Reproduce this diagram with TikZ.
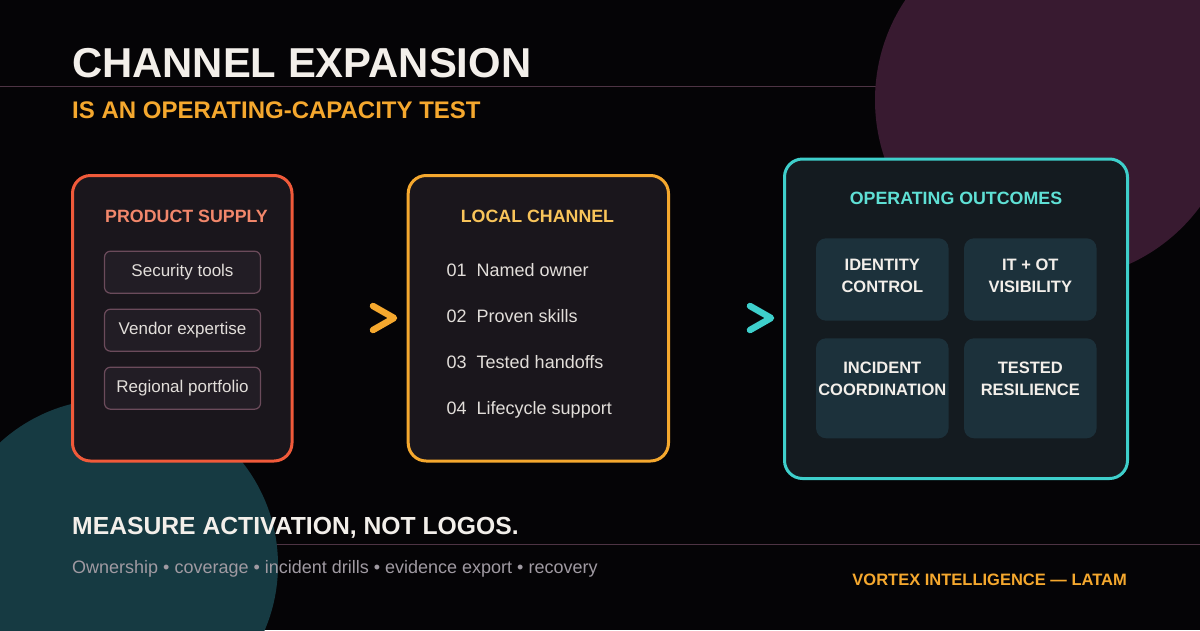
\documentclass[tikz,border=0pt]{standalone}
\usepackage{fontspec}
\setmainfont{Liberation Sans}
\usepackage{xcolor}
\usetikzlibrary{positioning}
\definecolor{bgdark}{HTML}{050406}
\definecolor{plum}{HTML}{381A30}
\definecolor{deepteal}{HTML}{163A42}
\definecolor{rulecol}{HTML}{4E3444}
\definecolor{ink}{HTML}{F3EFEA}
\definecolor{amber}{HTML}{F5A82E}
\definecolor{amberlt}{HTML}{F8C45A}
\definecolor{redline}{HTML}{F05A3A}
\definecolor{salmon}{HTML}{F2876B}
\definecolor{cyanline}{HTML}{3ECFCB}
\definecolor{cyantxt}{HTML}{5FE0D5}
\definecolor{panelfill}{HTML}{1A161C}
\definecolor{outfill}{HTML}{141B20}
\definecolor{itemfill}{HTML}{221D25}
\definecolor{itemline}{HTML}{6B4B5B}
\definecolor{tilefill}{HTML}{1C313B}
\definecolor{greytxt}{HTML}{A09AA2}
\definecolor{listtxt}{HTML}{E2DEDA}

\begin{document}
\begin{tikzpicture}[x=1pt, y=1pt, node distance=16pt, panel/.style={draw=#1, line width=3pt, rounded corners=18pt, inner sep=0pt}, ptitle/.style={anchor=base, inner sep=0pt, font=\fontsize{17.8}{20}\selectfont\bfseries}, item/.style={draw=itemline, fill=itemfill, line width=1.2pt, rounded corners=6pt, minimum width=156pt, minimum height=42pt, inner sep=0pt, outer sep=0pt, text=listtxt, font=\fontsize{17}{20}\selectfont}, entry/.style={anchor=base west, inner sep=0pt, text=listtxt, font=\fontsize{18}{20}\selectfont}, tile/.style={fill=tilefill, rounded corners=10pt, minimum width=132.5pt, inner sep=0pt}, tiletxt/.style={anchor=base, align=center, inner sep=0pt, text=ink, font=\fontsize{16.5}{22.7}\selectfont\bfseries}, chev/.style={draw=#1, line width=6.5pt, line cap=round, line join=round}, rule/.style={draw=rulecol, line width=1pt}]
% backdrop
\fill[bgdark] (0,0) rectangle (1200,-630);
\useasboundingbox (0,0) rectangle (1200,-630);
\draw[rule] (0,-86) -- (1200,-86);
\draw[rule] (0,-544) -- (1200,-544);
\fill[plum] (1055,-100) circle (180);
\fill[deepteal] (112,-565) circle (166);
% headings
\node[anchor=base west, inner sep=0pt, text=ink, font=\fontsize{41.8}{48}\selectfont\bfseries] (title) at (72,-77) {CHANNEL EXPANSION};
\node[anchor=base west, inner sep=0pt, text=amber, font=\fontsize{24}{28}\selectfont\bfseries] (subtitle) at (72,-118.3) {IS AN OPERATING-CAPACITY TEST};
% panels
\node[panel=redline, fill=panelfill, minimum width=219.5pt, minimum height=285.5pt] (supply) at (182.25,-318.25) {};
\node[panel=amber, fill=panelfill, minimum width=260.3pt, minimum height=285.5pt] (channel) at (538.35,-318.25) {};
\node[panel=cyanline, fill=outfill, minimum width=343pt, minimum height=319.5pt] (outcomes) at (956,-318.75) {};
\node[ptitle, text=salmon] (supplyhd) at (186.5,-222.3) {PRODUCT SUPPLY};
\node[ptitle, text=amberlt] (channelhd) at (537.5,-222.3) {LOCAL CHANNEL};
\node[ptitle, text=cyantxt] (outcomeshd) at (956,-204.3) {OPERATING OUTCOMES};
% product supply
\node[item] (tools) at (182.5,-272.2) {Security tools};
\node[item, below=of tools] (vendor) {Vendor expertise};
\node[item, below=of vendor] (portfolio) {Regional portfolio};
% local channel
\foreach \n/\t [count=\i] in {01/Named owner, 02/Proven skills, 03/Tested handoffs, 04/Lifecycle support}
  \node[entry] (entry\i) at (446.5,{-276.7-46*(\i-1)}) {\n\hspace{10pt}\t};
% outcomes
\node[tile, minimum height=82.4pt] (identity) at (882.3,-279.5) {};
\node[tile, minimum height=82.4pt] (visibility) at (1030.3,-279.5) {};
\node[tile, minimum height=100pt] (incident) at (882.3,-388.3) {};
\node[tile, minimum height=100pt] (resilience) at (1030.3,-388.3) {};
\node[tiletxt] at (882.3,-292.7) {IDENTITY\\CONTROL};
\node[tiletxt] at (1030.3,-292.7) {IT + OT\\VISIBILITY};
\node[tiletxt] at (882.3,-395.7) {INCIDENT\\COORDINATION};
\node[tiletxt] at (1030.3,-395.7) {TESTED\\RESILIENCE};
% chevrons
\draw[chev=amber] (373,-306) -- (394,-318) -- (373,-330);
\draw[chev=cyanline] (750,-306) -- (771,-318) -- (750,-330);
% footer
\node[anchor=base west, inner sep=0pt, text=ink, font=\fontsize{24.7}{28}\selectfont\bfseries] (motto) at (72,-534.3) {MEASURE ACTIVATION, NOT LOGOS.};
\node[anchor=base west, inner sep=0pt, text=greytxt, font=\fontsize{18}{20}\selectfont] (metrics) at (72,-573) {Ownership • coverage • incident drills • evidence export • recovery};
\node[anchor=base east, inner sep=0pt, text=amber, font=\fontsize{16.5}{20}\selectfont\bfseries] (brand) at (1127,-585) {VORTEX INTELLIGENCE — LATAM};
\end{tikzpicture}
\end{document}
